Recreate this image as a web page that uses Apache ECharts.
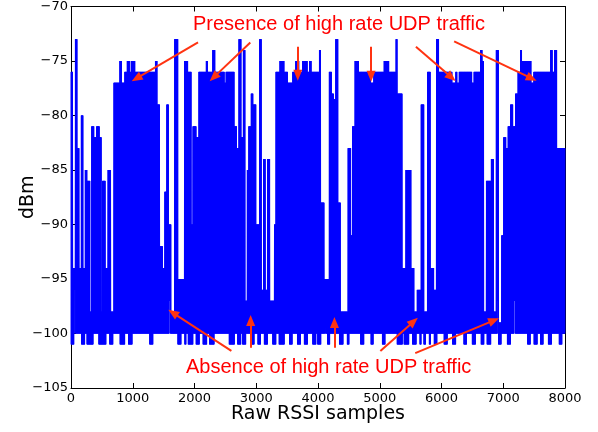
<!DOCTYPE html>
<html>
<head>
<meta charset="utf-8">
<script src="https://cdn.jsdelivr.net/npm/echarts@6/dist/echarts.min.js"></script>
<style>
html,body{margin:0;padding:0;background:#fff;}
#chart{width:598px;height:432px;}
</style>
</head>
<body>
<div id="chart"></div>
<script>
// ---- Data (sample index ranges and dBm levels) ----
const xTicks = [0, 1000, 2000, 3000, 4000, 5000, 6000, 7000, 8000];
const yTicks = [-105, -100, -95, -90, -85, -80, -75, -70];

// Upper envelope of the RSSI trace: [startSample, endSample, peak dBm]
const topSegments = [
  [0,32,-76],[32,70,-94],[70,97,-73],[97,130,-83],[130,167,-94],[167,200,-80],
  [200,232,-94],[232,264,-85],[264,307,-86],[307,329,-98],[329,372,-81],[372,415,-82],
  [415,458,-81],[458,490,-82],[490,512,-98],[512,555,-86],[555,598,-94],[598,641,-85],
  [641,690,-98],[690,786,-77],[786,824,-75],[824,867,-77],[867,910,-76],[910,948,-75],
  [948,975,-76],[975,1040,-75],[1040,1363,-76],[1363,1395,-75],[1395,1433,-79],
  [1433,1487,-92],[1487,1514,-94],[1514,1551,-87],[1551,1578,-79],[1578,1621,-90],
  [1621,1675,-98],[1675,1729,-73],[1729,1837,-95],[1837,1891,-75],[1891,1945,-76],
  [1945,1972,-90],[1972,2025,-81],[2025,2068,-82],[2068,2187,-76],[2187,2214,-75],
  [2214,2295,-76],[2295,2332,-74],[2332,2483,-76],[2483,2510,-77],[2510,2645,-76],
  [2645,2683,-81],[2683,2715,-83],[2715,2753,-73],[2753,2790,-82],[2790,2823,-74],
  [2823,2850,-97],[2850,2876,-85],[2876,2914,-81],[2914,2952,-78],[2952,2995,-79],
  [2995,3049,-90],[3049,3081,-73],[3081,3113,-96],[3113,3146,-84],[3146,3183,-96],
  [3183,3221,-84],[3221,3291,-97],[3291,3318,-90],[3318,3383,-76],[3383,3453,-75],
  [3453,3507,-76],[3507,3587,-77],[3587,3640,-76],[3640,3695,-75],[3695,3750,-76],
  [3750,3830,-75],[3830,3857,-76],[3857,3895,-75],[3895,4018,-76],[4018,4045,-74],
  [4045,4100,-88],[4100,4180,-95],[4180,4218,-76],[4218,4250,-78],[4250,4288,-78.5],
  [4288,4325,-73],[4325,4368,-88],[4368,4487,-98],[4487,4530,-83],[4530,4557,-91],
  [4557,4595,-81],[4595,4660,-75],[4660,4850,-76],[4850,4900,-77],[4900,5069,-76],
  [5069,5150,-75],[5150,5257,-76],[5257,5284,-73],[5284,5365,-78],[5365,5419,-94],
  [5419,5511,-85],[5511,5554,-94],[5554,5608,-98],[5608,5672,-96],[5672,5716,-79],
  [5716,5769,-98],[5769,5823,-76],[5823,5877,-94],[5877,5920,-96],[5920,5958,-73],
  [5958,6173,-76],[6173,6227,-77],[6227,6254,-76],[6254,6281,-77],[6281,6496,-76],
  [6496,6523,-77],[6523,6631,-76],[6631,6658,-74],[6658,6685,-75],[6685,6723,-98],
  [6723,6808,-86],[6808,6846,-84],[6846,6884,-98],[6884,6927,-74],[6927,6970,-99],
  [6970,7008,-91],[7008,7046,-82],[7046,7078,-83],[7078,7116,-81],[7116,7154,-79],
  [7154,7197,-81],[7197,7240,-78],[7240,7277,-76],[7277,7304,-74],[7304,7455,-75],
  [7455,7492,-77],[7492,7762,-76],[7762,7800,-74],[7800,7832,-76],[7832,7870,-74],
  [7870,8000,-83]
];

// Ranges where the trace dips to -101 dBm
const dipSegments = [
  [0,48],[167,226],[260,361],[452,571],[625,684],[792,873],[926,996],[1271,1325],
  [1729,1783],[1837,1864],[1896,1977],[2025,2079],[2133,2203],[2241,2322],[2564,2645],
  [2699,2753],[2780,2834],[2914,2968],[3022,3076],[3130,3184],[3265,3319],[3372,3453],
  [3534,3588],[3668,3722],[3776,3830],[3911,3965],[3991,4050],[4153,4196],[4342,4412],
  [4476,4503],[4692,4746],[4853,4897],[5042,5090],[5284,5365],[5392,5473],[5530,5590],
  [5650,5670],[5710,5745],[5801,5828],[5877,5931],[6040,6095],[6175,6230],[6360,6410],
  [6500,6550],[6640,6690],[6740,6800],[6920,6970],[7065,7118],[7390,7442],[7498,7552],
  [7600,7650],[7728,7782],[7902,7956]
];

// Short stretches where the trace stays above the -100 dBm floor: [start, end, lowest dBm]
const slitSegments = [
  [60,72,-96],[650,662,-97],[1595,1605,-97],[1760,1772,-96],[2836,2846,-96],
  [2930,2940,-97],[3150,3160,-97],[4110,4122,-96],[4270,4282,-97],[5450,5462,-97],
  [5525,5537,-96],[6905,6915,-97],[7180,7190,-97]
];

// Annotation arrows in data coordinates: [fromSample, fromDbm, toSample, toDbm]
const presenceArrows = [
  [2057,-73.3,1060,-76.6],[2904,-73.3,2310,-76.5],[3673,-73.7,3673,-76.3],
  [4860,-73.7,4860,-76.4],[5586,-73.7,6160,-76.5],[6205,-73.2,7460,-76.6]
];
const absenceArrows = [
  [2597,-101.6,1650,-98.1],[2909,-101.3,2909,-98.8],[4266,-101.3,4266,-99.0],
  [5010,-101.6,5550,-98.9],[5575,-101.8,6850,-98.8]
];

// ---- Build the trace from the envelopes ----
function topAt(s) {
  for (const seg of topSegments) if (s >= seg[0] && s < seg[1]) return seg[2];
  return -100;
}
function lowAt(s, hi) {
  for (const seg of dipSegments) if (s >= seg[0] && s < seg[1]) return -101;
  for (const seg of slitSegments) if (s >= seg[0] && s < seg[1] && seg[2] <= hi) return seg[2];
  return -100;
}
const trace = [];
for (let s = 0; s < 8000; s += 8) {
  const hi = topAt(s);
  trace.push([s, hi]);
  trace.push([s + 4, lowAt(s + 4, hi)]);
}
trace.push([8000, topAt(7999)]);

const arrowData = presenceArrows.concat(absenceArrows).map(a => [
  { coord: [a[0], a[1]], symbol: 'none' },
  { coord: [a[2], a[3]], symbol: 'triangle', symbolSize: [9, 11] }
]);

const minus = v => (v < 0 ? '\u2212' + (-v) : String(v));
const tickFont = { fontFamily: 'DejaVu Sans', fontSize: 13, color: '#000' };
const axisLine = { show: true, onZero: false, lineStyle: { color: '#000', width: 1 } };
const axisTick = { show: true, inside: true, length: 5, lineStyle: { color: '#000', width: 1 } };

const chart = echarts.init(document.getElementById('chart'), null, { renderer: 'canvas' });
chart.setOption({
  animation: false,
  backgroundColor: '#fff',
  grid: { left: 71, right: 33, top: 6, bottom: 44 },
  xAxis: [
    {
      type: 'value', position: 'bottom',
      min: xTicks[0], max: xTicks[xTicks.length - 1], interval: xTicks[1] - xTicks[0],
      axisLine, axisTick,
      axisLabel: Object.assign({ margin: 4, formatter: v => String(v) }, tickFont),
      splitLine: { show: false },
      name: 'Raw RSSI samples', nameLocation: 'middle', nameGap: 17, nameMoveOverlap: false,
      nameTextStyle: { fontFamily: 'DejaVu Sans', fontSize: 19, color: '#000' }
    },
    {
      type: 'value', position: 'top',
      min: xTicks[0], max: xTicks[xTicks.length - 1], interval: xTicks[1] - xTicks[0],
      axisLine, axisTick, axisLabel: { show: false }, splitLine: { show: false }
    }
  ],
  yAxis: [
    {
      type: 'value', position: 'left',
      min: yTicks[0], max: yTicks[yTicks.length - 1], interval: yTicks[1] - yTicks[0],
      axisLine, axisTick,
      axisLabel: Object.assign({ margin: 3, formatter: minus }, tickFont),
      splitLine: { show: false },
      name: 'dBm', nameLocation: 'middle', nameGap: 33, nameMoveOverlap: false,
      nameTextStyle: { fontFamily: 'DejaVu Sans', fontSize: 19, color: '#000' }
    },
    {
      type: 'value', position: 'right',
      min: yTicks[0], max: yTicks[yTicks.length - 1], interval: yTicks[1] - yTicks[0],
      axisLine, axisTick, axisLabel: { show: false }, splitLine: { show: false }
    }
  ],
  series: [{
    type: 'line',
    data: trace,
    showSymbol: false,
    symbol: 'none',
    lineStyle: { color: '#0000ff', width: 1 },
    silent: true,
    markLine: {
      silent: true,
      animation: false,
      symbol: ['none', 'triangle'],
      symbolSize: [9, 11],
      label: { show: false },
      lineStyle: { color: '#ff3311', width: 2, type: 'solid' },
      itemStyle: { color: '#ff3311' },
      data: arrowData
    }
  }],
  graphic: [
    { type: 'text', left: 193, top: 14, silent: true,
      style: { text: 'Presence of high rate UDP traffic', fill: '#ff0000',
               font: '20px "Liberation Sans", Arial, sans-serif' } },
    { type: 'text', left: 186, top: 357, silent: true,
      style: { text: 'Absence of high rate UDP traffic', fill: '#ff0000',
               font: '20px "Liberation Sans", Arial, sans-serif' } }
  ]
});
</script>
</body>
</html>
